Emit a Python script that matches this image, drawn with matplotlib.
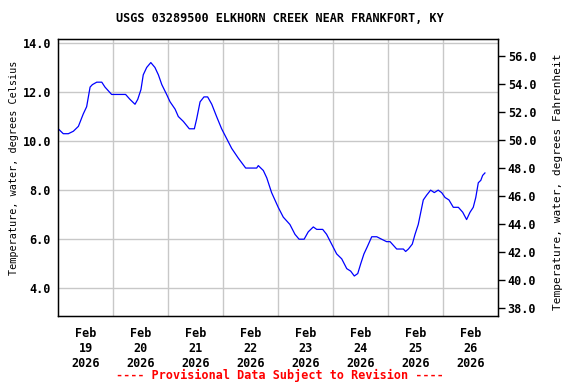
import pandas as pd
import matplotlib
matplotlib.use('Agg')
import matplotlib.pyplot as plt

plt.rcParams['font.family'] = 'DejaVu Sans Mono'
plt.rcParams['font.weight'] = 'bold'
plt.rcParams['font.size'] = 8.5

# hours since 2026-02-19 00:00 and water temperature (deg C)
hours = [0.1, 2.3, 4.5, 6.7, 8.9, 11.0, 12.5, 14.0, 15.0, 16.9, 19.1, 20.5,
         23.4, 26.3, 27.8, 29.5, 31.4, 33.6, 34.8, 36.2, 37.2, 38.7, 40.5,
         42.3, 43.8, 45.3, 47.4, 48.9, 51.1, 52.5, 54.7, 57.3, 59.5, 60.5,
         62.0, 63.7, 65.3, 67.1, 69.2, 71.4, 73.6, 75.8, 78.7, 81.9, 86.7,
         87.4, 89.6, 91.1, 93.2, 96.1, 98.3, 101.2, 103.4, 105.2, 107.4,
         109.2, 111.4, 112.9, 115.5, 117.2, 119.4, 121.6, 123.8, 126.0,
         127.7, 129.3, 130.8, 132.1, 133.5, 135.0, 136.9, 139.1, 141.2,
         143.4, 144.9, 147.8, 150.7, 151.7, 152.9, 154.6, 155.8, 157.2,
         158.3, 159.4, 160.9, 162.6, 164.2, 165.9, 167.4, 168.9, 170.6,
         172.5, 174.7, 176.6, 178.3, 179.8, 181.2, 182.3, 183.4, 184.5,
         185.3, 186.3]
temp_c = [10.5, 10.3, 10.3, 10.4, 10.6, 11.1, 11.4, 12.2, 12.3, 12.4, 12.4,
          12.2, 11.9, 11.9, 11.9, 11.9, 11.7, 11.5, 11.7, 12.1, 12.7, 13.0,
          13.2, 13.0, 12.7, 12.3, 11.9, 11.6, 11.3, 11.0, 10.8, 10.5, 10.5,
          10.9, 11.6, 11.8, 11.8, 11.5, 11.0, 10.5, 10.1, 9.7, 9.3, 8.9,
          8.9, 9.0, 8.8, 8.5, 7.9, 7.3, 6.9, 6.6, 6.2, 6.0, 6.0, 6.3, 6.5,
          6.4, 6.4, 6.2, 5.8, 5.4, 5.2, 4.8, 4.7, 4.5, 4.6, 5.0, 5.4, 5.7,
          6.1, 6.1, 6.0, 5.9, 5.9, 5.6, 5.6, 5.5, 5.6, 5.8, 6.2, 6.6, 7.1,
          7.6, 7.8, 8.0, 7.9, 8.0, 7.9, 7.7, 7.6, 7.3, 7.3, 7.1, 6.8, 7.1,
          7.3, 7.7, 8.3, 8.4, 8.6, 8.7]

days = ['19', '20', '21', '22', '23', '24', '25', '26']
c_ticks = [4, 6, 8, 10, 12, 14]
f_ticks = [38, 40, 42, 44, 46, 48, 50, 52, 54, 56]

start = pd.Timestamp('2026-02-19')
times = start + pd.to_timedelta(hours, unit='h')
noons = [start + pd.Timedelta(days=i, hours=12) for i in range(len(days))]
midnights = [start + pd.Timedelta(days=i) for i in range(1, len(days))]

fig = plt.figure(figsize=(5.76, 3.84), dpi=100)
ax = fig.add_axes([58 / 576, 1 - 316 / 384, 440 / 576, 277 / 384])

ax.plot(times, temp_c, color='#0000ff', linewidth=0.9)

ax.set_xlim(start, start + pd.Timedelta(days=8))
ax.set_ylim(2.87, 14.16)
ax.set_xticks(noons)
ax.set_xticklabels([f'Feb\n{d}\n2026' for d in days], linespacing=1.2)
ax.set_xticks(midnights, minor=True)
ax.set_yticks(c_ticks)
ax.set_yticklabels([f'{v:.1f}' for v in c_ticks])
ax.tick_params(axis='x', which='both', length=0, pad=8)
ax.tick_params(axis='y', length=0, pad=5)
ax.grid(True, which='minor', axis='x', color='#c8c8c8', linewidth=1)
ax.grid(True, which='major', axis='y', color='#c8c8c8', linewidth=1)
ax.set_axisbelow(True)
for s in ax.spines.values():
    s.set_linewidth(1)
ax.set_ylabel('Temperature, water, degrees Celsius', fontsize=7.3, va='center')
ax.yaxis.set_label_coords((14 - 58) / 440, (316 - 168) / 277)

ax2 = ax.twinx()
ax2.set_ylim(37.45, 57.21)
ax2.set_yticks(f_ticks)
ax2.set_yticklabels([f'{v:.1f}' for v in f_ticks])
ax2.tick_params(axis='y', length=5, width=1, pad=2)
ax2.set_ylabel('Temperature, water, degrees Fahrenheit', fontsize=8, va='center')
ax2.yaxis.set_label_coords((558 - 58) / 440, (316 - 182) / 277)

fig.text(280 / 576, 1 - 19 / 384, 'USGS 03289500 ELKHORN CREEK NEAR FRANKFORT, KY',
         ha='center', va='center', fontsize=8.5)
fig.text(280 / 576, 1 - 375 / 384, '---- Provisional Data Subject to Revision ----',
         ha='center', va='center', color='red', fontsize=8.5)

fig.savefig('out.png', dpi=100, facecolor='white')
